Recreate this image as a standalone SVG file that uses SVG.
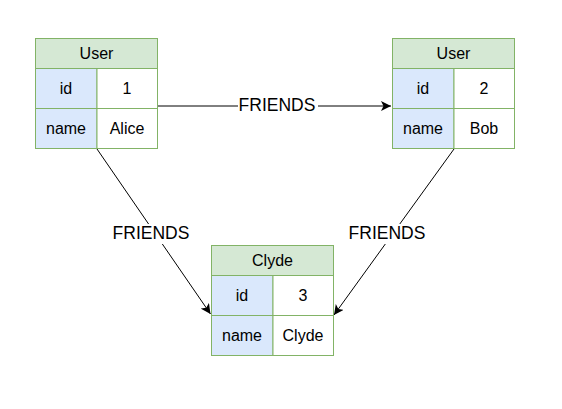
<svg xmlns="http://www.w3.org/2000/svg" width="562" height="409" viewBox="0 0 562 409">
<defs>
<style>
.hdr{fill:#d5e8d4;stroke:#82b366;stroke-width:1}
.key{fill:#dae8fc;stroke:#82b366;stroke-width:1}
.val{fill:#ffffff;stroke:#82b366;stroke-width:1}
.t{font-family:"Liberation Sans",Arial,sans-serif;font-size:16px;fill:#000;text-anchor:middle;dominant-baseline:central}
.lbl{font-family:"Liberation Sans",Arial,sans-serif;font-size:17.5px;fill:#000;text-anchor:middle;dominant-baseline:central}
.edge{stroke:#000;stroke-width:1;fill:none}
</style>
<marker id="ah" viewBox="0 0 10 10" refX="10" refY="5" markerWidth="10" markerHeight="10" markerUnits="userSpaceOnUse" orient="auto">
<path d="M0,0 L10,5 L0,10 L2.5,5 Z" fill="#000"/>
</marker>
</defs>
<g id="connectors">
<line class="edge" x1="158" y1="106" x2="391" y2="106" marker-end="url(#ah)"/>
<rect x="238" y="96" width="80" height="20" fill="#fff"/>
<text class="lbl" x="277" y="105">FRIENDS</text>
<line class="edge" x1="97" y1="149" x2="210.5" y2="314" marker-end="url(#ah)"/>
<rect x="111" y="224" width="80" height="20" fill="#fff"/>
<text class="lbl" x="151" y="233">FRIENDS</text>
<line class="edge" x1="454" y1="149" x2="334" y2="315" marker-end="url(#ah)"/>
<rect x="347" y="224" width="80" height="20" fill="#fff"/>
<text class="lbl" x="387" y="233">FRIENDS</text>
</g>
<g id="alice">
<rect class="hdr" x="35.5" y="38.5" width="122" height="30"/>
<rect class="key" x="35.5" y="68.5" width="61.5" height="40"/>
<rect class="val" x="97" y="68.5" width="60.5" height="40"/>
<rect class="key" x="35.5" y="108.5" width="61.5" height="40"/>
<rect class="val" x="97" y="108.5" width="60.5" height="40"/>
<text class="t" x="96.5" y="53">User</text>
<text class="t" x="66" y="88">id</text>
<text class="t" x="127" y="88">1</text>
<text class="t" x="66" y="128">name</text>
<text class="t" x="127" y="128">Alice</text>
</g>
<g id="bob">
<rect class="hdr" x="392.5" y="38.5" width="122" height="30"/>
<rect class="key" x="392.5" y="68.5" width="61.5" height="40"/>
<rect class="val" x="454" y="68.5" width="60.5" height="40"/>
<rect class="key" x="392.5" y="108.5" width="61.5" height="40"/>
<rect class="val" x="454" y="108.5" width="60.5" height="40"/>
<text class="t" x="453.5" y="53">User</text>
<text class="t" x="423" y="88">id</text>
<text class="t" x="484" y="88">2</text>
<text class="t" x="423" y="128">name</text>
<text class="t" x="484" y="128">Bob</text>
</g>
<g id="clyde">
<rect class="hdr" x="211.5" y="245.5" width="122" height="30"/>
<rect class="key" x="211.5" y="275.5" width="61.5" height="40"/>
<rect class="val" x="273" y="275.5" width="60.5" height="40"/>
<rect class="key" x="211.5" y="315.5" width="61.5" height="40"/>
<rect class="val" x="273" y="315.5" width="60.5" height="40"/>
<text class="t" x="272.5" y="260">Clyde</text>
<text class="t" x="242" y="295">id</text>
<text class="t" x="303" y="295">3</text>
<text class="t" x="242" y="335">name</text>
<text class="t" x="303" y="335">Clyde</text>
</g>
</svg>
